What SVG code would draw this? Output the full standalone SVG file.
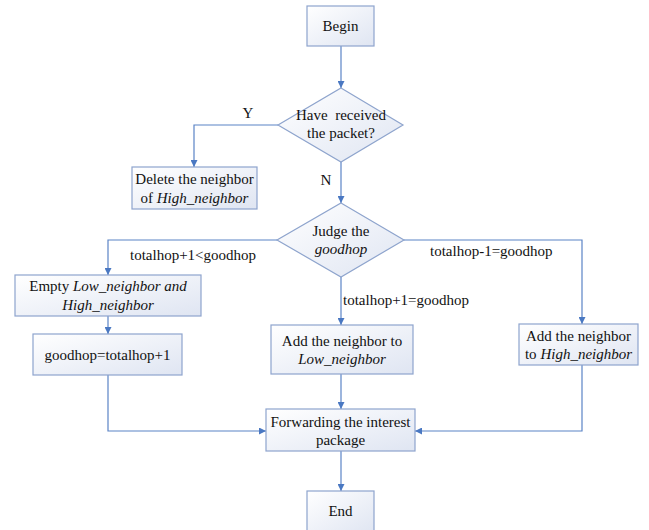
<svg xmlns="http://www.w3.org/2000/svg" width="649" height="530" viewBox="0 0 649 530">
<defs>
<linearGradient id="g" x1="0" y1="0" x2="1" y2="1">
<stop offset="0" stop-color="#ffffff"/>
<stop offset="1" stop-color="#dfe5f2"/>
</linearGradient>
<marker id="ah" viewBox="0 0 8 8" refX="8" refY="4" markerWidth="7" markerHeight="7" markerUnits="userSpaceOnUse" orient="auto">
<path d="M0,0 L8,4 L0,8 z" fill="#4a78c2"/>
</marker>
</defs>
<style>
.n{fill:url(#g);stroke:#8ea4cd;stroke-width:1.2}
.c{fill:none;stroke:#5b84c6;stroke-width:1.2;marker-end:url(#ah)}
text{font-family:"Liberation Serif","Times New Roman","DejaVu Serif",serif;font-size:15px;fill:#111;text-anchor:middle}
.i{font-style:italic}
.s{text-anchor:start}
</style>
<rect width="649" height="530" fill="#fff"/>
<g id="connectors">
<path class="c" d="M341,46 V88"/>
<path class="c" d="M278,125 H194 V167"/>
<path class="c" d="M341,162 V203"/>
<path class="c" d="M277,240 H108 V275"/>
<path class="c" d="M108,316 V334"/>
<path class="c" d="M108,375 V431 H266"/>
<path class="c" d="M341,277 V325"/>
<path class="c" d="M404,240 H582 V324"/>
<path class="c" d="M341,374 V409"/>
<path class="c" d="M582,365 V431 H415"/>
<path class="c" d="M341,451 V491"/>
<text x="248" y="118">Y</text>
<text x="326" y="185">N</text>
<text class="s" x="130" y="260">totalhop+1&lt;goodhop</text>
<text class="s" x="430" y="256">totalhop-1=goodhop</text>
<text class="s" x="343" y="305">totalhop+1=goodhop</text>
</g>
<g id="begin">
<rect class="n" x="307" y="6" width="67" height="40"/>
<text x="340.5" y="31">Begin</text>
</g>
<g id="received">
<polygon class="n" points="341,88 403,125 341,162 278,125"/>
<text x="341" y="120" xml:space="preserve">Have  received</text>
<text x="341" y="138">the packet?</text>
</g>
<g id="delete">
<rect class="n" x="132" y="167" width="125" height="42"/>
<text x="194.5" y="184">Delete the neighbor</text>
<text x="194.5" y="203">of <tspan class="i">High_neighbor</tspan></text>
</g>
<g id="judge">
<polygon class="n" points="341,203 404,240 341,277 277,240"/>
<text x="341" y="236">Judge the</text>
<text class="i" x="341" y="254">goodhop</text>
</g>
<g id="empty">
<rect class="n" x="15" y="275" width="186" height="41"/>
<text x="108" y="291">Empty <tspan class="i">Low_neighbor and</tspan></text>
<text class="i" x="108" y="310">High_neighbor</text>
</g>
<g id="goodhop">
<rect class="n" x="33" y="334" width="149" height="41"/>
<text x="107.5" y="360">goodhop=totalhop+1</text>
</g>
<g id="addlow">
<rect class="n" x="271" y="325" width="142" height="49"/>
<text x="342" y="346">Add the neighbor to</text>
<text class="i" x="342" y="364">Low_neighbor</text>
</g>
<g id="addhigh">
<rect class="n" x="519" y="324" width="119" height="41"/>
<text x="578.5" y="341">Add the neighbor</text>
<text x="578.5" y="359">to <tspan class="i">High_neighbor</tspan></text>
</g>
<g id="forward">
<rect class="n" x="266" y="409" width="149" height="42"/>
<text x="340.5" y="427">Forwarding the interest</text>
<text x="340.5" y="445">package</text>
</g>
<g id="end">
<rect class="n" x="307" y="491" width="67" height="42"/>
<text x="340.5" y="516">End</text>
</g>
</svg>
